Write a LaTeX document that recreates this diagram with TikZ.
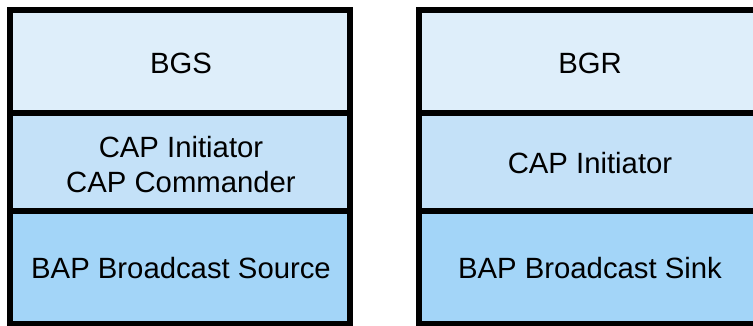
\documentclass[tikz,border=0pt]{standalone}
\usepackage{fontspec}
\setmainfont{Liberation Sans}
\definecolor{rowtop}{RGB}{222,238,250}
\definecolor{rowmid}{RGB}{196,225,248}
\definecolor{rowbot}{RGB}{163,213,248}
\begin{document}
\begin{tikzpicture}[x=1pt,y=-1pt,
  layer/.style={draw=black,line width=6pt},
  label/.style={align=center,inner sep=0pt,font=\fontsize{29.3}{35}\selectfont},
]
\useasboundingbox (0,0) rectangle (753,326);
\clip (0,0) rectangle (753,326);
% left stack
\path[layer,fill=rowtop] (10,10) rectangle (350,113);
\path[layer,fill=rowmid] (10,113) rectangle (350,211.5);
\path[layer,fill=rowbot] (10,211.5) rectangle (350,324);
\node[label] (bgs) at (181,63) {BGS};
\node[label] (capl) at (181,164.5) {CAP Initiator\\CAP Commander};
\node[label] (bapl) at (181,268) {BAP Broadcast Source};
% right stack
\path[layer,fill=rowtop] (418.5,10) rectangle (770,113);
\path[layer,fill=rowmid] (418.5,113) rectangle (770,211.5);
\path[layer,fill=rowbot] (418.5,211.5) rectangle (770,324);
\node[label] (bgr) at (590,63) {BGR};
\node[label] (capr) at (590,163.5) {CAP Initiator};
\node[label] (bapr) at (590,268) {BAP Broadcast Sink};
\end{tikzpicture}
\end{document}
